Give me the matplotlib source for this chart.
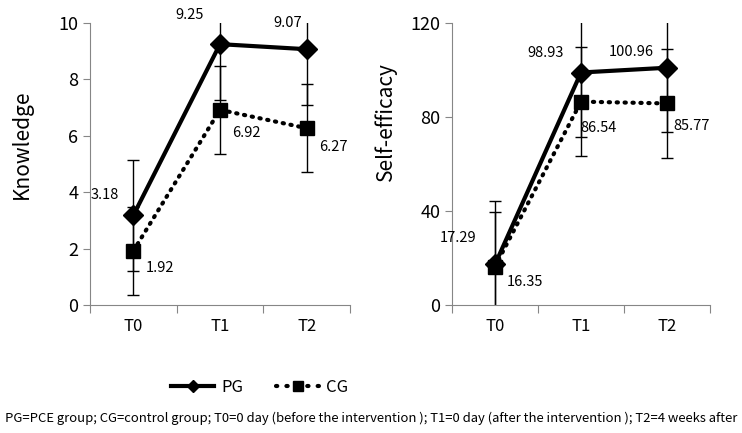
import numpy as np
import matplotlib
matplotlib.use('Agg')
import matplotlib.pyplot as plt
from matplotlib.lines import Line2D

plt.rcParams['font.family'] = ['Noto Sans CJK KR', 'DejaVu Sans']

# data
times = ['T0', 'T1', 'T2']

know_pg = [3.18, 9.25, 9.07]
know_pg_sd = [1.97, 1.97, 1.99]
know_cg = [1.92, 6.92, 6.27]
know_cg_sd = [1.55, 1.57, 1.57]

eff_pg = [17.29, 98.93, 100.96]
eff_pg_sd = [27.0, 27.5, 27.5]
eff_cg = [16.35, 86.54, 85.77]
eff_cg_sd = [23.2, 23.2, 23.2]

# label offsets in pixels (dx, dy) from each point
know_pg_off = [(-29, 20), (-30, 29), (-19, 26)]
know_cg_off = [(27, -17), (26, -23), (27, -19)]
eff_pg_off = [(-37, 26), (-35, 20), (-36, 16)]
eff_cg_off = [(30, -15), (18, -26), (25, -23)]

fig = plt.figure(figsize=(7.42, 4.33), dpi=100)
ax1 = fig.add_axes([0.1213, 0.2956, 0.3504, 0.6513])
ax2 = fig.add_axes([0.6092, 0.2956, 0.3477, 0.6513])

x = np.arange(len(times))
gray = '#868686'
dots = (0, (0.3, 1.6))


def panel(ax, pg, pg_sd, cg, cg_sd, pg_off, cg_off, ymax, step, ylabel):
    ax.errorbar(x, pg, yerr=pg_sd, fmt='none', ecolor='black', elinewidth=1,
                capsize=4, capthick=1, zorder=2)
    ax.errorbar(x, cg, yerr=cg_sd, fmt='none', ecolor='black', elinewidth=1,
                capsize=4, capthick=1, zorder=2)
    ax.plot(x, pg, color='black', lw=3, marker='D', ms=10, zorder=4)
    ax.plot(x, cg, color='black', lw=3, ls=dots, dash_capstyle='round',
            marker='s', ms=10, zorder=3)
    for xi, v, (dx, dy) in zip(x, pg, pg_off):
        ax.annotate(f'{v:.2f}', (xi, v), xytext=(dx * 0.72, dy * 0.72),
                    textcoords='offset points', ha='center', va='center', fontsize=10.5)
    for xi, v, (dx, dy) in zip(x, cg, cg_off):
        ax.annotate(f'{v:.2f}', (xi, v), xytext=(dx * 0.72, dy * 0.72),
                    textcoords='offset points', ha='center', va='center', fontsize=10.5)
    ax.set_xlim(-0.5, 2.5)
    ax.set_ylim(0, ymax)
    ax.set_yticks(np.arange(0, ymax + 1, step))
    ax.set_xticks([-0.5, 0.5, 1.5, 2.5])
    ax.set_xticklabels([])
    ax.set_xticks(x, minor=True)
    ax.set_xticklabels(times, minor=True)
    ax.tick_params(axis='x', which='major', length=6, color=gray, direction='out')
    ax.tick_params(axis='x', which='minor', length=0, labelsize=12, pad=9)
    ax.tick_params(axis='y', length=5, color=gray, labelsize=13)
    for s in ['top', 'right']:
        ax.spines[s].set_visible(False)
    for s in ['left', 'bottom']:
        ax.spines[s].set_color(gray)
    ax.set_ylabel(ylabel, fontsize=15)


panel(ax1, know_pg, know_pg_sd, know_cg, know_cg_sd, know_pg_off, know_cg_off,
      10, 2, 'Knowledge')
panel(ax2, eff_pg, eff_pg_sd, eff_cg, eff_cg_sd, eff_pg_off, eff_cg_off,
      120, 40, 'Self-efficacy')
ax1.yaxis.set_label_coords(-0.22, 0.57)
ax2.yaxis.set_label_coords(-0.215, 0.65)

handles = [Line2D([], [], color='black', lw=3, marker='D', ms=6),
           Line2D([], [], color='black', lw=3, ls=(0, (0.3, 2.2)),
                  dash_capstyle='round', marker='s', ms=7)]
fig.legend(handles, ['PG', 'CG'], loc='center', bbox_to_anchor=(0.35, 0.106),
           ncol=2, frameon=False, fontsize=12, handlelength=2.6,
           handletextpad=0.4, columnspacing=2.0)

fig.text(0.5, 0.033, 'PG=PCE group; CG=control group; T0=0 day (before the intervention ); '
         'T1=0 day (after the intervention ); T2=4 weeks after',
         ha='center', va='center', fontsize=9.4)

fig.savefig('out.png', dpi=100)
